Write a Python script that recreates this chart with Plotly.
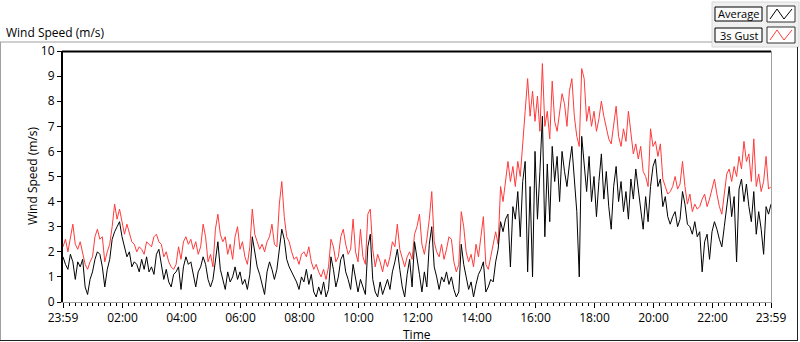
import plotly.graph_objects as go
from datetime import datetime, timedelta

start = datetime(2020, 1, 1, 23, 59)
step_min = 5

gust = [
2.2,2.5,2.0,2.6,3.1,2.3,2.1,2.4,2.0,1.5,1.3,1.6,1.8,2.6,2.9,2.5,2.6,1.6,2.0,2.3,
3.0,3.9,3.3,3.7,3.2,2.7,3.1,2.7,2.4,2.3,2.0,2.2,2.1,1.9,2.4,2.3,2.2,2.6,2.7,2.4,
2.3,1.8,2.0,1.6,1.4,1.3,1.5,2.2,
1.7,2.4,2.6,2.3,2.5,2.1,2.4,1.9,2.2,3.1,2.6,1.6,1.9,1.4,2.9,3.5,2.7,2.4,2.6,1.9,
2.3,1.7,2.6,3.0,2.1,2.4,1.8,1.5,2.2,3.7,2.7,2.4,2.1,2.3,2.0,2.4,2.6,3.1,2.3,2.2,
3.9,4.8,3.4,2.6,2.4,2.0,1.7,
1.8,1.5,1.9,2.0,1.8,2.2,1.6,1.3,1.5,1.2,1.0,1.3,0.9,1.4,2.5,2.2,1.6,1.8,2.6,2.9,
2.3,1.9,2.1,3.3,2.0,1.6,2.9,1.8,1.5,3.5,3.7,2.1,1.4,1.9,1.6,1.2,1.7,1.4,1.8,2.4,
2.2,3.1,2.1,1.7,1.4,1.8,2.0,
1.7,2.7,3.0,3.5,2.3,1.9,2.5,3.3,4.4,2.4,2.0,1.8,2.3,1.7,2.1,2.6,2.5,1.6,1.2,1.5,
3.6,3.0,2.0,1.6,1.9,1.4,2.3,1.8,2.6,3.4,1.5,1.3,1.8,2.3,2.8,2.3,4.6,4.0,4.7,5.6,
4.8,5.4,4.6,5.6,5.0,6.5,7.6,
8.9,7.4,8.4,7.2,8.2,6.8,9.5,7.0,7.6,6.5,8.8,7.2,6.8,7.5,8.3,7.9,7.0,8.4,8.9,7.4,
6.6,6.2,9.3,8.9,7.2,7.8,7.0,7.6,6.8,7.3,8.0,7.4,6.9,6.5,6.3,7.0,7.8,6.6,6.2,6.9,
6.4,7.6,6.7,5.9,6.3,5.7,6.2,
5.2,5.0,4.6,6.9,6.2,6.4,5.8,6.3,4.9,4.6,4.3,4.4,4.6,5.0,4.5,4.7,5.6,4.6,3.9,4.3,
3.6,3.9,3.7,3.8,4.1,4.3,3.8,4.1,4.5,4.9,4.3,3.8,3.5,4.2,5.1,5.3,4.8,5.4,5.0,5.8,
5.3,6.4,5.6,5.9,4.8,6.5,4.6,5.1,4.4,4.8,5.8,4.5,4.6,
]

average = [
1.8,1.5,1.3,1.9,1.6,0.9,1.6,1.4,1.7,0.6,0.3,0.9,1.2,1.7,2.0,1.9,1.4,0.6,1.3,1.7,
2.5,2.8,3.0,3.2,2.6,2.2,1.8,2.0,1.4,1.6,1.5,1.2,1.7,1.3,1.8,1.2,1.4,1.1,1.9,2.1,
1.5,0.9,1.3,0.8,0.6,1.1,1.2,1.4,
0.5,1.4,1.8,1.5,1.6,1.1,0.6,1.2,1.4,1.8,1.5,0.9,0.6,0.9,1.6,2.4,1.3,0.9,0.5,1.2,
0.8,1.0,1.4,0.9,1.2,0.7,0.9,0.5,1.1,2.6,2.0,1.4,1.1,0.7,0.3,1.2,1.6,1.3,0.9,1.3,
2.2,2.9,2.5,1.7,1.4,1.2,1.0,
0.8,0.5,1.0,0.8,1.3,0.7,1.1,0.4,0.2,0.6,0.3,0.8,0.2,0.5,1.8,1.3,0.6,1.0,1.7,1.9,
1.2,0.9,0.5,1.5,1.0,0.4,0.9,0.6,0.3,2.2,2.7,0.9,0.4,0.2,0.8,0.3,0.6,0.9,0.5,1.2,
1.6,2.1,1.3,0.6,0.2,1.1,1.7,
0.6,2.4,1.8,1.1,0.4,1.2,0.6,2.3,3.0,1.4,1.0,0.5,1.0,0.8,1.2,0.7,1.0,0.5,0.2,0.4,
2.3,1.5,1.0,0.5,0.8,0.2,0.7,1.1,1.3,1.6,0.4,0.6,0.9,0.8,1.6,2.1,3.2,2.8,3.3,3.5,
1.4,3.8,3.3,4.4,2.6,4.8,5.6,
1.2,4.6,1.0,6.0,3.3,5.2,7.4,2.6,5.5,3.2,6.2,4.8,5.8,4.0,6.0,5.2,4.6,5.5,6.2,4.9,
3.6,1.0,6.6,5.5,4.4,5.8,4.0,5.0,3.4,4.8,5.9,4.1,5.2,3.8,2.9,4.6,5.4,4.0,4.8,3.6,
4.4,3.3,4.9,4.1,5.3,4.5,3.8,
2.9,4.2,3.2,4.6,5.4,5.7,4.6,4.9,3.8,4.2,3.4,3.1,3.4,3.6,3.0,3.3,4.4,3.9,3.1,3.0,
2.7,3.2,2.6,2.8,1.2,2.4,2.7,1.7,2.8,3.2,2.9,2.5,2.2,3.0,3.7,4.6,3.4,4.2,1.6,4.5,
4.9,4.0,4.7,3.8,3.2,4.4,2.7,3.6,2.9,1.9,3.8,3.5,3.9,
]

times = [start + timedelta(minutes=step_min * i) for i in range(len(gust))]

tick_labels = ["23:59", "02:00", "04:00", "06:00", "08:00", "10:00", "12:00",
               "14:00", "16:00", "18:00", "20:00", "22:00", "23:59"]
end = start + timedelta(minutes=1440)
midnight = datetime(2020, 1, 2, 0, 0)
tick_vals = [start] + [midnight + timedelta(hours=2 * k) for k in range(1, 12)] + [end]

W, H = 800, 342
L, R, T, B = 63, 771, 51, 302

def px(x):
    return (x - L) / (R - L)

def py(y):
    return (B - y) / (B - T)

FONT = "Open Sans"

fig = go.Figure()
fig.add_trace(go.Scatter(x=times, y=gust, mode="lines", name="3s Gust",
                         line=dict(color="#ff3a3a", width=1)))
fig.add_trace(go.Scatter(x=times, y=average, mode="lines", name="Average",
                         line=dict(color="#000000", width=1)))

shapes = []
# outer frame
shapes.append(dict(type="line", xref="paper", yref="paper", x0=px(0), x1=px(712), y0=py(42), y1=py(42),
                   line=dict(color="#a0a0a0", width=1)))
shapes.append(dict(type="line", xref="paper", yref="paper", x0=px(0.5), x1=px(0.5), y0=py(42), y1=py(341),
                   line=dict(color="#a0a0a0", width=1)))
shapes.append(dict(type="line", xref="paper", yref="paper", x0=px(0), x1=px(798), y0=py(340.5), y1=py(340.5),
                   line=dict(color="#202020", width=1)))
shapes.append(dict(type="line", xref="paper", yref="paper", x0=px(797.5), x1=px(797.5), y0=py(47), y1=py(341),
                   line=dict(color="#202020", width=1)))
# plot top (black) and right (gray) borders
shapes.append(dict(type="line", xref="paper", yref="paper", x0=px(62), x1=px(771), y0=py(51.5), y1=py(51.5),
                   line=dict(color="#000000", width=2)))
shapes.append(dict(type="line", xref="paper", yref="paper", x0=px(771.5), x1=px(771.5), y0=py(51), y1=py(303),
                   line=dict(color="#a0a0a0", width=1)))
# legend panel
shapes.append(dict(type="rect", xref="paper", yref="paper", x0=px(712), x1=px(799), y0=py(2), y1=py(47),
                   fillcolor="#f0f0f0", line=dict(color="#d8d8d8", width=1), layer="below"))
for (ytop, ybot) in [(6, 22), (27, 43)]:
    shapes.append(dict(type="rect", xref="paper", yref="paper", x0=px(715), x1=px(762), y0=py(ytop + 1), y1=py(ybot - 1),
                       fillcolor="#fafafa", line=dict(color="#000000", width=1)))
    shapes.append(dict(type="rect", xref="paper", yref="paper", x0=px(767), x1=px(795), y0=py(ytop), y1=py(ybot),
                       fillcolor="#ffffff", line=dict(color="#303030", width=1)))

def zigzag(ytop, ybot, color):
    pts = [(770, ybot - 3), (777, ytop + 3), (784, ybot - 3), (792, ytop + 3)]
    path = "M " + " L ".join(f"{px(a)},{py(b)}" for a, b in pts)
    return dict(type="path", xref="paper", yref="paper", path=path, line=dict(color=color, width=1))

shapes.append(zigzag(6, 22, "#000000"))
shapes.append(zigzag(27, 43, "#ff3a3a"))

annotations = [
    dict(text="Wind Speed (m/s)", xref="paper", yref="paper", x=px(4), y=py(32), xanchor="left", yanchor="middle",
         showarrow=False, font=dict(family=FONT, size=12, color="#000000")),
    dict(text="Wind Speed (m/s)", xref="paper", yref="paper", x=px(32), y=py(176), xanchor="center", yanchor="middle",
         textangle=-90, showarrow=False, font=dict(family=FONT, size=12, color="#000000")),
    dict(text="Time", xref="paper", yref="paper", x=px(417), y=py(334), xanchor="center", yanchor="middle",
         showarrow=False, font=dict(family=FONT, size=12, color="#000000")),
    dict(text="Average", xref="paper", yref="paper", x=px(738.5), y=py(14), xanchor="center", yanchor="middle",
         showarrow=False, font=dict(family=FONT, size=11, color="#000000")),
    dict(text="3s Gust", xref="paper", yref="paper", x=px(738.5), y=py(35), xanchor="center", yanchor="middle",
         showarrow=False, font=dict(family=FONT, size=11, color="#000000")),
]

fig.update_layout(
    width=W, height=H,
    margin=dict(l=L, r=W - R, t=T, b=H - B),
    paper_bgcolor="#ffffff", plot_bgcolor="#ffffff",
    showlegend=False,
    font=dict(family=FONT, size=12, color="#000000"),
    shapes=shapes,
    annotations=annotations,
    xaxis=dict(
        type="date", range=[start, end], showgrid=False, zeroline=False,
        tickmode="array", tickvals=tick_vals, ticktext=tick_labels,
        ticks="outside", ticklen=5, tickcolor="#000000", tickwidth=1,
        showline=True, linecolor="#a0a0a0", linewidth=1,
        tickfont=dict(family=FONT, size=12, color="#000000"),
        minor=dict(ticks="outside", ticklen=3, tickcolor="#000000", tickwidth=1,
                   tick0=midnight, dtick=12 * 60 * 1000, showgrid=False),
    ),
    yaxis=dict(
        range=[0, 10], dtick=1, tick0=0, showgrid=False, zeroline=False,
        ticks="outside", ticklen=4, tickcolor="#000000", tickwidth=1,
        showline=True, linecolor="#000000", linewidth=2,
        tickfont=dict(family=FONT, size=12, color="#000000"),
    ),
)

fig.write_html("out.html",
               config={"displayModeBar": False, "staticPlot": True},
               post_script="document.body.style.margin='0';document.body.style.overflow='hidden';")
